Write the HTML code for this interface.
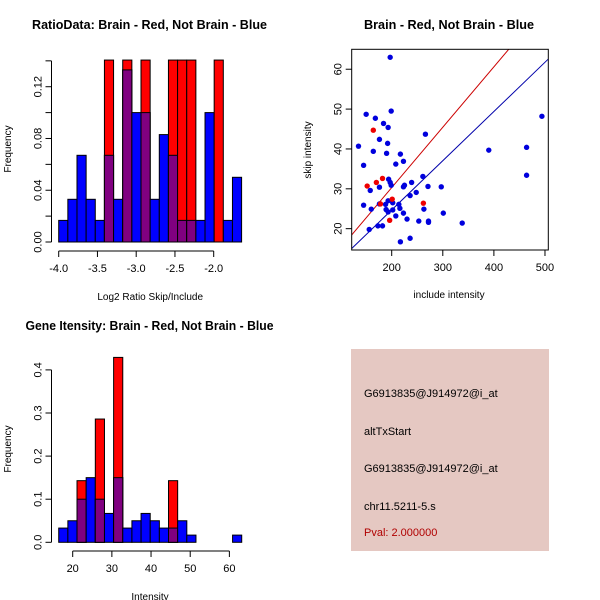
<!DOCTYPE html>
<html><head><meta charset="utf-8"><style>
html,body{margin:0;padding:0;background:#fff;}
svg{display:block;font-family:"Liberation Sans",sans-serif;}
</style></head><body>
<svg id="c" width="600" height="600" viewBox="0 0 600 600">
<rect x="0" y="0" width="600" height="600" fill="#fff"/>
<text x="149.5" y="29" text-anchor="middle" font-weight="bold" font-size="12.5" textLength="235" lengthAdjust="spacingAndGlyphs">RatioData: Brain - Red, Not Brain - Blue</text>
<text x="449" y="29" text-anchor="middle" font-weight="bold" font-size="12.5" textLength="170" lengthAdjust="spacingAndGlyphs">Brain - Red, Not Brain - Blue</text>
<text x="149.5" y="330" text-anchor="middle" font-weight="bold" font-size="12.5" textLength="248" lengthAdjust="spacingAndGlyphs">Gene Itensity: Brain - Red, Not Brain - Blue</text>
<g id="g1"></g>
<g id="g2"></g>
<g id="g3"></g>
<g>
<rect x="351" y="349" width="198" height="202" fill="#e5c8c2"/>
<text x="364" y="397" font-size="11">G6913835@J914972@i_at</text>
<text x="364" y="435" font-size="11">altTxStart</text>
<text x="364" y="472" font-size="11">G6913835@J914972@i_at</text>
<text x="364" y="510" font-size="11">chr11.5211-5.s</text>
<text x="364" y="536" font-size="11" fill="#b00000">Pval: 2.000000</text>
</g>
</svg>
<script>
// ---- Ratio histogram data ----
const ratioStart = -4.0;
const ratioBinWidth = 0.118;
const ratioBlue = [0.0167,0.033,0.067,0.033,0.0167,0.067,0.033,0.133,0.1,0.1,0.033,0.083,0.067,0.0167,0.0167,0.0167,0.1,0,0.0167,0.05];
const ratioRed  = [0,0,0,0,0,0.143,0,0.143,0,0.143,0,0,0.143,0.143,0.143,0,0,0.143,0,0];
const ratioXTicks = [-4.0,-3.5,-3.0,-2.5,-2.0];
const ratioXLabels = ["-4.0","-3.5","-3.0","-2.5","-2.0"];
const ratioYTicks = [0,0.02,0.04,0.06,0.08,0.10,0.12,0.14];
const ratioYLabels = ["0.00","","0.04","","0.08","","0.12",""];
// ---- Intensity histogram data ----
const intStart = 16.43;
const intBinWidth = 2.336;
const intBlue = [0.033,0.05,0.1,0.15,0.1,0.067,0.15,0.033,0.05,0.067,0.05,0.033,0.033,0.05,0.0167,0,0,0,0,0.0167];
const intRed  = [0,0,0.143,0,0.286,0,0.429,0,0,0,0,0,0.143,0,0,0,0,0,0,0];
const intXTicks = [20,30,40,50,60];
const intYTicks = [0,0.1,0.2,0.3,0.4];
const intYLabels = ["0.0","0.1","0.2","0.3","0.4"];
// ---- Scatter data ----
const blueInclude = [197,199,150,168,184,193,176,192,135,164,190,217,223,208,145,266,194,197,199,239,225,223,261,271,297,176,158,248,236,145,176,188,193,202,214,189,193,202,216,160,263,223,208,230,301,253,272,272,338,156,173,182,217,236,390,464,464,494];
const blueSkip = [63.0,49.5,48.7,47.7,46.4,45.4,42.4,41.4,40.7,39.4,38.9,38.7,36.9,36.2,35.9,43.7,32.4,31.6,30.9,31.6,30.9,30.5,33.1,30.6,30.5,30.4,29.6,29.1,28.3,25.9,26.2,26.1,27.0,26.5,26.1,24.8,24.2,24.7,25.1,24.9,24.9,23.9,23.2,22.4,23.9,21.9,21.9,21.6,21.4,19.8,20.7,20.7,16.7,17.6,39.7,40.4,33.4,48.2];
const redInclude = [164,152,170,182,201,178,196,262];
const redSkip = [44.7,30.7,31.6,32.6,27.4,26.2,22.1,26.4];
const blueSlope = 0.1235;
const redSlope = 0.1515;
const scXTicks = [200,300,400,500];
const scYTicks = [20,30,40,50,60];

const NS = "http://www.w3.org/2000/svg";
function mk(parent, tag, attrs, name) {
  const e = document.createElementNS(NS, tag);
  for (const k in attrs) e.setAttribute(k, attrs[k]);
  
  
  parent.appendChild(e);
  return e;
}
function txt(parent, x, y, s, attrs, name) {
  const t = mk(parent, 'text', Object.assign({x:x, y:y, 'font-size':11}, attrs||{}), name);
  t.textContent = s;
  return t;
}

function histogram(g, o) {
  const X = v => o.px0 + (v - o.x0) * o.kx;
  const Y = v => o.py0 - v * o.ky;
  const clipTop = Y(o.yClip);
  for (let i = 0; i < o.blue.length; i++) {
    const a = o.start + i * o.bw, b = a + o.bw;
    const xa = X(a), xb = X(b);
    const bl = o.blue[i], rd = o.red[i];
    if (bl > 0) mk(g, 'rect', {x:xa, y:Y(bl), width:xb-xa, height:Y(0)-Y(bl), fill:'#0000ff', stroke:'#000', 'stroke-width':1}, 'blue-bar');
    if (rd > 0) {
      const top = Math.max(Y(rd), clipTop);
      mk(g, 'rect', {x:xa, y:top, width:xb-xa, height:Y(0)-top, fill:'#ff0000', stroke:'#000', 'stroke-width':1}, 'red-bar');
      if (bl > 0) {
        const m = Math.min(bl, rd);
        mk(g, 'rect', {x:xa, y:Y(m), width:xb-xa, height:Y(0)-Y(m), fill:'#800080', stroke:'#000', 'stroke-width':1}, 'overlap-bar');
      }
    }
  }
  // y axis
  const ax = o.yAxisX;
  const yt = o.yTicks;
  mk(g, 'line', {x1:ax, y1:Y(yt[0]), x2:ax, y2:Y(yt[yt.length-1]), stroke:'#000'}, 'y-axis');
  yt.forEach((v,i) => {
    mk(g, 'line', {x1:ax-6, y1:Y(v), x2:ax, y2:Y(v), stroke:'#000'}, 'y-tick');
    if (o.yLabels[i]) txt(g, 0, 0, o.yLabels[i], {'text-anchor':'middle', transform:`translate(${ax-10},${Y(v)}) rotate(-90)`}, 'y-tick-label');
  });
  // x axis
  const ay = o.xAxisY;
  const xt = o.xTicks;
  mk(g, 'line', {x1:X(xt[0]), y1:ay, x2:X(xt[xt.length-1]), y2:ay, stroke:'#000'}, 'x-axis');
  xt.forEach((v,i) => {
    mk(g, 'line', {x1:X(v), y1:ay, x2:X(v), y2:ay+6, stroke:'#000'}, 'x-tick');
    txt(g, X(v), ay+21, o.xLabels[i], {'text-anchor':'middle'}, 'x-tick-label');
  });
  txt(g, (X(xt[0])+X(xt[xt.length-1]))/2 + o.xTitleDx, ay+49, o.xTitle, {'text-anchor':'middle', 'font-size':10}, 'x-axis-title');
  txt(g, 0, 0, 'Frequency', {'text-anchor':'middle', 'font-size':10, transform:`translate(11,${o.yTitleY}) rotate(-90)`}, 'y-axis-title');
}

histogram(document.getElementById('g1'), {
  start: ratioStart, bw: ratioBinWidth, blue: ratioBlue, red: ratioRed,
  x0: -4.0, px0: 58.7, kx: 77.5, py0: 242, ky: 1294, yClip: 0.1406,
  yTicks: ratioYTicks, yLabels: ratioYLabels, yAxisX: 51.5, xAxisY: 251,
  xTicks: ratioXTicks, xLabels: ratioXLabels, xTitle: 'Log2 Ratio Skip/Include', xTitleDx: 14, yTitleY: 149
});
histogram(document.getElementById('g3'), {
  start: intStart, bw: intBinWidth, blue: intBlue, red: intRed,
  x0: 20, px0: 72.7, kx: 3.917, py0: 542.3, ky: 431, yClip: 1,
  yTicks: intYTicks, yLabels: intYLabels, yAxisX: 51.5, xAxisY: 551,
  xTicks: intXTicks, xLabels: intXTicks.map(String), xTitle: 'Intensity', xTitleDx: -1, yTitleY: 449
});

// scatter
(function(){
  const g = document.getElementById('g2');
  const L = 351.7, R = 548.3, T = 49.3, B = 250;
  const xmin = 121.7, xmax = 506.5, ymin = 14.65, ymax = 65.0;
  const X = v => L + (v - xmin) / (xmax - xmin) * (R - L);
  const Y = v => B - (v - ymin) / (ymax - ymin) * (B - T);
  const clip = mk(g, 'clipPath', {id:'scClip'}, 'scatter-clip');
  mk(clip, 'rect', {x:L, y:T, width:R-L, height:B-T}, 'scatter-clip-rect');
  mk(g, 'line', {x1:X(xmin), y1:Y(xmin*redSlope), x2:X(xmax), y2:Y(xmax*redSlope), stroke:'#cc0000', 'stroke-width':1, 'clip-path':'url(#scClip)'}, 'red-fit-line');
  mk(g, 'line', {x1:X(xmin), y1:Y(xmin*blueSlope), x2:X(xmax), y2:Y(xmax*blueSlope), stroke:'#0000aa', 'stroke-width':1, 'clip-path':'url(#scClip)'}, 'blue-fit-line');
  blueInclude.forEach((v,i) => mk(g, 'circle', {cx:X(v), cy:Y(blueSkip[i]), r:2.7, fill:'#0000dd'}, 'blue-point'));
  redInclude.forEach((v,i) => mk(g, 'circle', {cx:X(v), cy:Y(redSkip[i]), r:2.7, fill:'#ee0000'}, 'red-point'));
  mk(g, 'rect', {x:L, y:T, width:R-L, height:B-T, fill:'none', stroke:'#000'}, 'plot-box');
  scXTicks.forEach(v => {
    mk(g, 'line', {x1:X(v), y1:B, x2:X(v), y2:B+6, stroke:'#000'}, 'x-tick');
    txt(g, X(v), B+21, String(v), {'text-anchor':'middle'}, 'x-tick-label');
  });
  scYTicks.forEach(v => {
    mk(g, 'line', {x1:L-6, y1:Y(v), x2:L, y2:Y(v), stroke:'#000'}, 'y-tick');
    txt(g, 0, 0, String(v), {'text-anchor':'middle', transform:`translate(${L-10},${Y(v)}) rotate(-90)`}, 'y-tick-label');
  });
  txt(g, 449, 298, 'include intensity', {'text-anchor':'middle', 'font-size':10}, 'x-axis-title');
  txt(g, 0, 0, 'skip intensity', {'text-anchor':'middle', 'font-size':10, transform:`translate(311,150) rotate(-90)`}, 'y-axis-title');
})();
</script>
</body></html>
